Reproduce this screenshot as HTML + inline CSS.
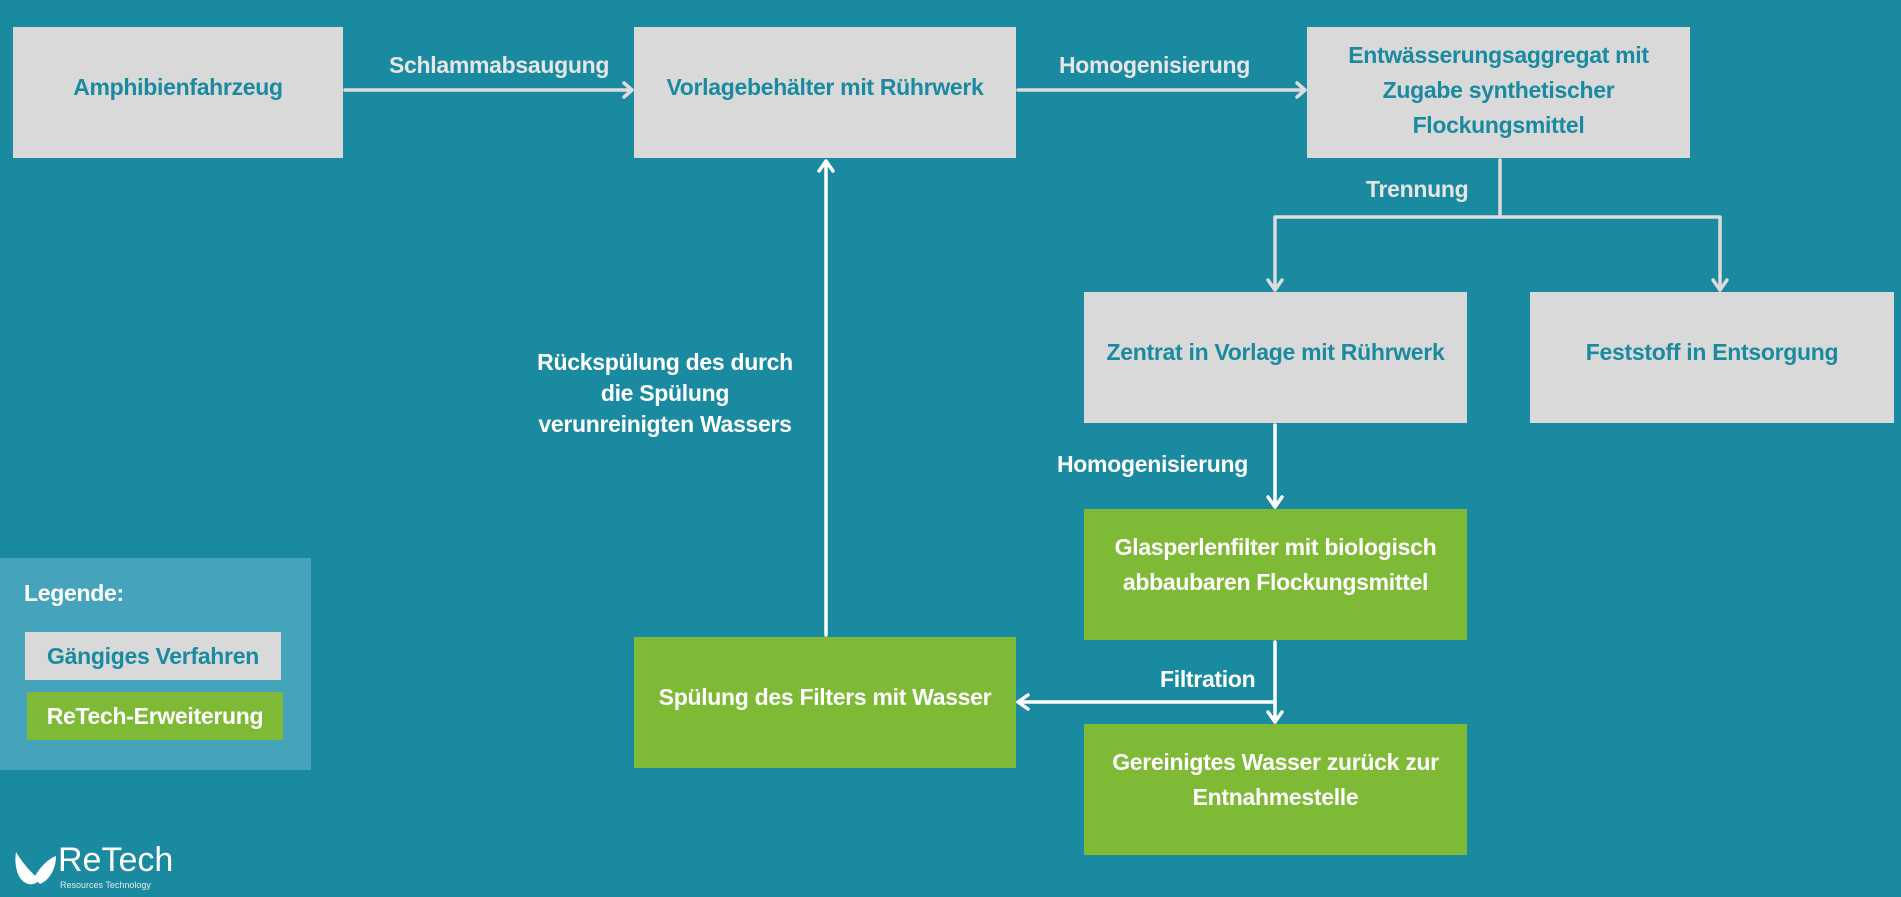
<!DOCTYPE html>
<html><head><meta charset="utf-8">
<style>
html,body{margin:0;padding:0}
body{width:1901px;height:897px;background:#1a8aa0;position:relative;overflow:hidden;font-family:"Liberation Sans",Arial,sans-serif;font-weight:bold}
.b{position:absolute;display:flex;align-items:center;justify-content:center;text-align:center;font-size:23px;line-height:35px;box-sizing:border-box;padding-bottom:10px;letter-spacing:-0.3px}
.g{background:#d9d9d9;color:#1a8aa0}
.n{background:#7fba36;color:#fff}
.t{position:absolute;font-size:23px;color:#e6e6e6;white-space:nowrap;letter-spacing:-0.3px}
.w{color:#fff}
svg{position:absolute;left:0;top:0}
</style></head><body>
<div class="b g" style="left:13px;top:27px;width:330px;height:131px">Amphibienfahrzeug</div>
<div class="b g" style="left:634px;top:27px;width:382px;height:131px">Vorlagebehälter mit Rührwerk</div>
<div class="b g" style="left:1307px;top:27px;width:383px;height:131px;padding-bottom:4px">Entwässerungsaggregat mit<br>Zugabe synthetischer<br>Flockungsmittel</div>
<div class="b g" style="left:1084px;top:292px;width:383px;height:131px">Zentrat in Vorlage mit Rührwerk</div>
<div class="b g" style="left:1530px;top:292px;width:364px;height:131px">Feststoff in Entsorgung</div>
<div class="b n" style="left:1084px;top:509px;width:383px;height:131px;padding-bottom:20px">Glasperlenfilter mit biologisch<br>abbaubaren Flockungsmittel</div>
<div class="b n" style="left:1084px;top:724px;width:383px;height:131px;padding-bottom:20px">Gereinigtes Wasser zurück zur<br>Entnahmestelle</div>
<div class="b n" style="left:634px;top:637px;width:382px;height:131px">Spülung des Filters mit Wasser</div>

<div style="position:absolute;left:0;top:558px;width:311px;height:212px;background:#45a3bc"></div>
<div class="t w" style="left:24px;top:580px">Legende:</div>
<div class="b g" style="left:25px;top:632px;width:256px;height:48px;padding:0">Gängiges Verfahren</div>
<div class="b n" style="left:27px;top:692px;width:256px;height:48px;padding:0">ReTech-Erweiterung</div>

<div class="t" style="left:389px;top:52px">Schlammabsaugung</div>
<div class="t" style="left:1059px;top:52px">Homogenisierung</div>
<div class="t" style="left:1366px;top:176px">Trennung</div>
<div class="t w" style="left:1057px;top:451px">Homogenisierung</div>
<div class="t w" style="left:1160px;top:666px">Filtration</div>
<div class="t w" style="left:510px;top:347px;width:310px;text-align:center;white-space:normal;line-height:31px">Rückspülung des durch<br>die Spülung<br>verunreinigten Wassers</div>

<svg width="1901" height="897" viewBox="0 0 1901 897" fill="none" stroke-width="3.5" stroke-linecap="round" stroke-linejoin="round">
 <g stroke="#dcdcdc">
  <path d="M345 90H632M624 83L632 90L624 97"/>
  <path d="M1018 90H1305M1297 83L1305 90L1297 97"/>
  <path d="M1500 160V217M1275 217H1720M1275 217V290M1268 280L1275 290L1282 280M1720 217V290M1713 280L1720 290L1727 280"/>
 </g>
 <g stroke="#fff">
  <path d="M1275 425V507M1268 497L1275 507L1282 497"/>
  <path d="M1275 642V722M1268 712L1275 722L1282 712"/>
  <path d="M1275 702H1018M1028 695L1018 702L1028 709"/>
  <path d="M826 635V161M819 171L826 161L833 171"/>
 </g>
 <path d="M16 852C22 862 30 872 40 880C32 888 22 884 18 874C15 866 15 858 16 852Z" fill="#fff"/>
 <path d="M34 878C40 866 50 858 56 856C56 868 50 880 40 884Z" fill="#fff"/>
</svg>
<div style="position:absolute;left:58px;top:843px;color:#fff;font-weight:normal;font-size:34px;line-height:34px">ReTech</div>
<div style="position:absolute;left:60px;top:880px;color:#e8e8e8;font-weight:normal;font-size:9px">Resources Technology</div>
</body></html>
